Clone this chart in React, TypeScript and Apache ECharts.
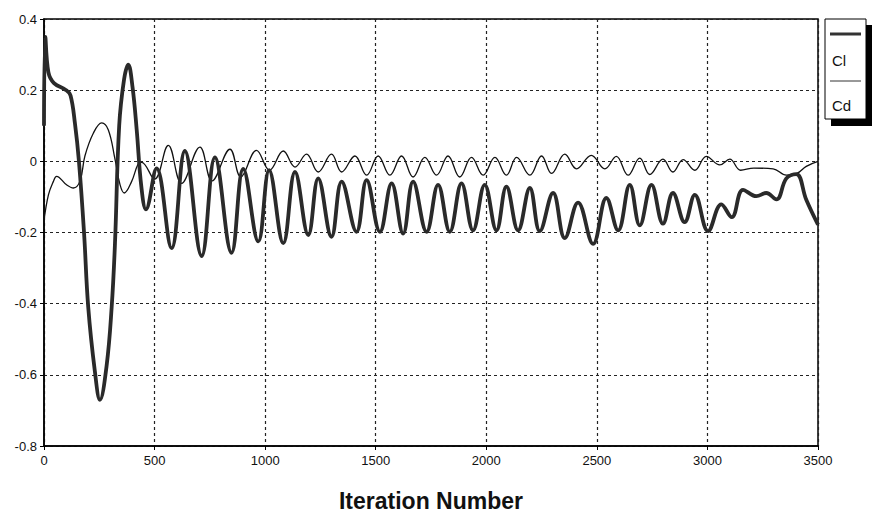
import React, { useEffect, useRef } from "react";
import * as echarts from "echarts";

// Iteration number / Cl (lift coefficient, thick line)
const clIter = [0, 6, 20, 45, 100, 120, 140, 158, 181, 200, 230, 253, 283, 306, 321, 340, 362, 381, 400, 419, 440, 461, 509, 577, 637, 713, 773, 848, 901, 969, 1018, 1082, 1135, 1195, 1240, 1300, 1346, 1413, 1459, 1519, 1572, 1624, 1669, 1730, 1782, 1835, 1888, 1940, 1993, 2046, 2091, 2144, 2197, 2242, 2302, 2355, 2415, 2483, 2543, 2596, 2649, 2694, 2747, 2799, 2844, 2897, 2943, 3003, 3063, 3110, 3161, 3221, 3266, 3312, 3357, 3402, 3447, 3500];
const clValues = [0.10, 0.35, 0.25, 0.22, 0.20, 0.185, 0.106, 0.0, -0.2, -0.41, -0.59, -0.67, -0.575, -0.41, -0.23, 0.1, 0.23, 0.272, 0.21, 0.09, -0.07, -0.135, -0.02, -0.244, 0.029, -0.266, 0.011, -0.257, -0.021, -0.225, -0.025, -0.23, -0.03, -0.207, -0.048, -0.212, -0.057, -0.198, -0.053, -0.198, -0.062, -0.203, -0.057, -0.198, -0.066, -0.198, -0.062, -0.194, -0.066, -0.194, -0.071, -0.194, -0.075, -0.196, -0.089, -0.216, -0.116, -0.232, -0.103, -0.194, -0.066, -0.18, -0.066, -0.175, -0.089, -0.171, -0.094, -0.196, -0.121, -0.157, -0.08, -0.098, -0.089, -0.107, -0.048, -0.036, -0.108, -0.178];

// Iteration number / Cd (drag coefficient, thin line)
const cdIter = [0, 20, 42, 57, 102, 133, 163, 185, 223, 261, 291, 321, 344, 363, 396, 426, 441, 500, 562, 622, 705, 760, 841, 890, 961, 1020, 1082, 1135, 1187, 1240, 1300, 1346, 1406, 1459, 1511, 1564, 1617, 1669, 1722, 1775, 1827, 1880, 1933, 1986, 2039, 2091, 2137, 2197, 2250, 2295, 2355, 2408, 2475, 2536, 2588, 2641, 2694, 2739, 2799, 2844, 2890, 2943, 2995, 3056, 3101, 3150, 3210, 3297, 3357, 3405, 3447, 3500];
const cdValues = [-0.166, -0.094, -0.057, -0.042, -0.066, -0.075, -0.055, 0.015, 0.079, 0.108, 0.088, 0.006, -0.066, -0.089, -0.057, -0.007, -0.003, -0.05, 0.045, -0.062, 0.040, -0.055, 0.034, -0.044, 0.031, -0.025, 0.029, -0.016, 0.020, -0.030, 0.020, -0.030, 0.015, -0.039, 0.015, -0.039, 0.015, -0.044, 0.011, -0.039, 0.015, -0.044, 0.011, -0.039, 0.011, -0.039, 0.011, -0.039, 0.015, -0.034, 0.020, -0.021, 0.017, -0.021, 0.014, -0.039, 0.009, -0.037, 0.006, -0.030, 0.005, -0.025, 0.014, -0.010, 0.006, -0.025, -0.019, -0.021, -0.039, -0.034, -0.014, 0.0];

const seriesNames = ["Cl", "Cd"];
const xTitle = "Iteration Number";

const FONT = "'Liberation Sans', Arial, sans-serif";

export default function App() {
  const ref = useRef<HTMLDivElement>(null);

  useEffect(() => {
    if (!ref.current) return;
    const chart = echarts.init(ref.current, null, { renderer: "svg" });
    const clData = clIter.map((x, i) => [x, clValues[i]]);
    const cdData = cdIter.map((x, i) => [x, cdValues[i]]);
    const gridLine = { show: true, lineStyle: { color: "#222", width: 1.2, type: [3, 3] as number[] } };

    chart.setOption({
      animation: false,
      backgroundColor: "#fff",
      grid: {
        left: 44,
        right: 55,
        top: 19,
        bottom: 58,
        show: true,
        borderColor: "#000",
        borderWidth: 1.5,
        backgroundColor: "transparent",
      },
      xAxis: {
        type: "value",
        min: 0,
        max: 3500,
        interval: 500,
        name: xTitle,
        nameLocation: "middle",
        nameGap: 43,
        nameTextStyle: { fontFamily: FONT, fontSize: 23, fontWeight: "bold", color: "#111" },
        axisLine: { show: true, onZero: false, lineStyle: { color: "#000", width: 1.5 } },
        axisTick: { show: true, length: 4, lineStyle: { color: "#000" } },
        axisLabel: { fontFamily: FONT, fontSize: 13, color: "#111", margin: 8, formatter: (v: number) => String(v) },
        splitLine: gridLine,
      },
      yAxis: {
        type: "value",
        min: -0.8,
        max: 0.4,
        interval: 0.2,
        axisLine: { show: true, onZero: false, lineStyle: { color: "#000", width: 1.5 } },
        axisTick: { show: true, length: 4, lineStyle: { color: "#000" } },
        axisLabel: {
          fontFamily: FONT,
          fontSize: 13,
          color: "#111",
          margin: 7,
          formatter: (v: number) => (Math.abs(v) < 1e-9 ? "0" : v.toFixed(1)),
        },
        splitLine: gridLine,
      },
      series: [
        {
          name: seriesNames[1],
          type: "line",
          data: cdData,
          symbol: "none",
          smooth: 0.4,
          lineStyle: { color: "#111", width: 1.3 },
        },
        {
          name: seriesNames[0],
          type: "line",
          data: clData,
          symbol: "none",
          smooth: 0.4,
          lineStyle: { color: "#2a2a2a", width: 3.8 },
        },
      ],
      graphic: [
        { type: "rect", shape: { x: 831, y: 25, width: 41, height: 101 }, style: { fill: "#000" } },
        { type: "rect", shape: { x: 825, y: 19, width: 41, height: 100 }, style: { fill: "#fff", stroke: "#000", lineWidth: 1 } },
        { type: "line", shape: { x1: 830, y1: 34, x2: 861, y2: 34 }, style: { stroke: "#333", lineWidth: 3 } },
        { type: "text", x: 832, y: 60, style: { text: seriesNames[0], font: `15px ${FONT}`, fill: "#111", verticalAlign: "middle" } },
        { type: "line", shape: { x1: 830, y1: 81, x2: 861, y2: 81 }, style: { stroke: "#333", lineWidth: 1 } },
        { type: "text", x: 832, y: 105, style: { text: seriesNames[1], font: `15px ${FONT}`, fill: "#111", verticalAlign: "middle" } },
      ],
    });
    return () => chart.dispose();
  }, []);

  return (
    <div
      ref={ref}
      style={{ position: "fixed", left: 0, top: 0, width: 873, height: 517, background: "#fff" }}
    />
  );
}
